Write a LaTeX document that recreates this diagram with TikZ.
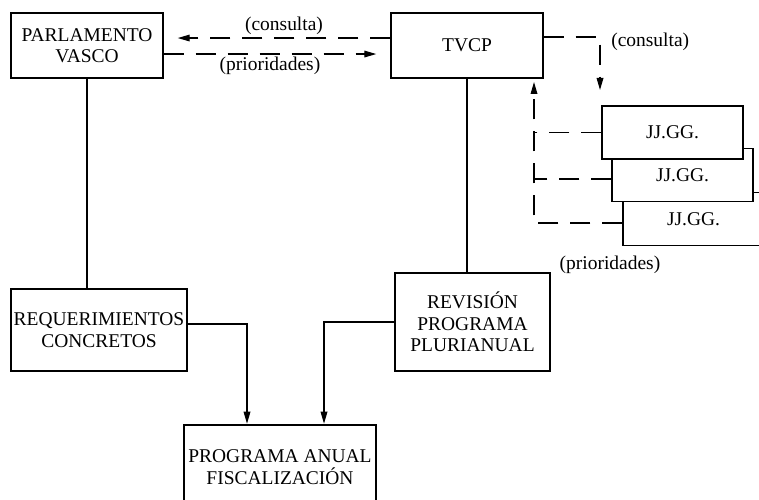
\documentclass[tikz,border=0pt]{standalone}
\usepackage{fontspec}
\setmainfont{Liberation Serif}
\usetikzlibrary{positioning, arrows.meta}
\tikzstyle{box} = [rectangle, draw=black, line width=1.1pt, fill=white, align=center, inner xsep=0pt, inner ysep=2pt]
\tikzstyle{mainbox} = [box, line width=1.9pt]
\tikzstyle{jjbox} = [box, minimum width=105.75pt, minimum height=39.75pt]
\tikzstyle{lbl} = [inner sep=2pt]
\tikzstyle{link} = [line width=0.9pt]
\tikzstyle{arrow} = [link, ->, >={Triangle[length=9pt,width=5pt]}]
\tikzstyle{dasharrow} = [arrow, dash pattern=on 15pt off 9pt]
\tikzstyle{dashlink} = [link, dash pattern=on 15pt off 9pt]

\begin{document}
\begin{tikzpicture}[x=0.75pt, y=-0.75pt, font=\fontsize{14.6}{16}\selectfont]
        \clip (0,0) rectangle (759,499);

        \node[box, minimum width=114pt, minimum height=48.75pt]      (parl)  at (87,45.5)    {PARLAMENTO\\VASCO};
        \node[box, minimum width=114pt, minimum height=48.75pt]      (tvcp)  at (467,45.5)   {TVCP};
        \node[box, minimum width=132pt, minimum height=61.5pt]       (req)   at (99,330)     {REQUERIMIENTOS\\CONCRETOS};
        \node[box, minimum width=116.25pt, minimum height=73.5pt]    (rev)   at (472.5,322)  {REVISIÓN\\PROGRAMA\\PLURIANUAL};
        \node[mainbox, minimum width=144pt, minimum height=63pt]     (prog)  at (280,467)    {PROGRAMA ANUAL\\FISCALIZACIÓN};

        % juntas generales, de atras hacia delante
        \node[jjbox] (jj3) at (693.5,219)  {JJ.GG.};
        \node[jjbox] (jj2) at (682.5,175)  {\raisebox{-3pt}{JJ.GG.}};
        \node[jjbox] (jj1) at (672.5,132.5) {JJ.GG.};

        \coordinate (jjin)   at (600,90);
        \coordinate (tvcpin) at (534,82);
        \coordinate (jj2in)  at ([yshift=-3pt]jj2.west);
        \coordinate (jj3in)  at ([yshift=-3pt]jj3.west);

        \draw[dasharrow] ([yshift=5.6pt]tvcp.west) -- node[lbl, above] {(consulta)} ([yshift=5.6pt, xshift=10.5pt]parl.east);
        \draw[dasharrow] ([yshift=-6.4pt]parl.east) -- node[lbl, below] {(prioridades)} ([yshift=-6.4pt, xshift=-10.5pt]tvcp.west);
        \draw[dasharrow] ([yshift=6.4pt]tvcp.east) -| node[lbl, pos=0.55, right, xshift=6pt] {(consulta)} (jjin);

        \draw[dasharrow] (jj3in) -| (tvcpin);
        \draw[dashlink]  (jj1.west) -- (tvcpin |- jj1.west);
        \draw[dashlink]  (jj2in) -- (tvcpin |- jj2in);
        \node[lbl] (prio) at (610,265) {(prioridades)};

        \draw[link]  (parl.south) -- (parl.south |- req.north);
        \draw[link]  (tvcp.south) -- (tvcp.south |- rev.north);
        \draw[arrow] ([yshift=4.5pt]req.east) -| ([xshift=-24.75pt]prog.north);
        \draw[arrow] (rev.west) -| ([xshift=33pt]prog.north);
\end{tikzpicture}
\end{document}
